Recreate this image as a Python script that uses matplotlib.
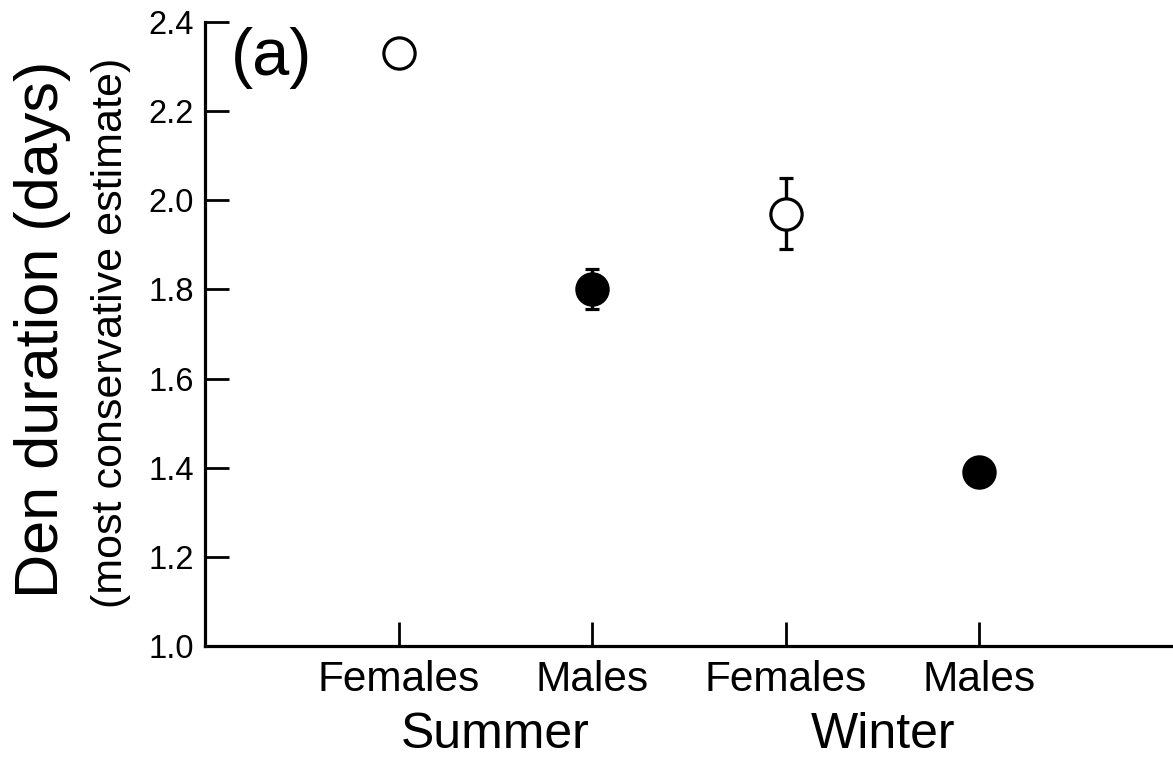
import numpy as np
import matplotlib
matplotlib.use("Agg")
import matplotlib.pyplot as plt
from matplotlib.transforms import blended_transform_factory

plt.rcParams['font.family'] = ['Liberation Sans', 'DejaVu Sans']

# Den duration, most conservative estimate
groups = ['Females', 'Males', 'Females', 'Males']
seasons = ['Summer', 'Winter']
means = [2.33, 1.80, 1.97, 1.39]
errors = [0.02, 0.045, 0.08, 0.02]
filled = [False, True, False, True]
y_ticks = [1.0, 1.2, 1.4, 1.6, 1.8, 2.0, 2.2, 2.4]

W, H = 1173, 758
fig = plt.figure(figsize=(W / 100, H / 100), dpi=100)
ax = fig.add_axes([205 / W, 1 - 646 / H, 1 - 205 / W, (646 - 22) / H])

# Points with error bars (open = females, filled = males)
x = np.arange(1, len(means) + 1)
for xi, m, e, f in zip(x, means, errors, filled):
    ax.errorbar(xi, m, yerr=e, fmt='o', ms=22.5, mew=2.3,
                mfc='black' if f else 'white', mec='black',
                ecolor='black', elinewidth=2.4, capsize=4.8, capthick=2.4,
                zorder=3)

# Axes styling
ax.set_xlim(0, 5)
ax.set_ylim(1.0, 2.4)
ax.set_xticks(x)
ax.set_xticklabels(groups)
ax.set_yticks(y_ticks)
ax.set_yticklabels([f"{v:.1f}" for v in y_ticks])
for side in ['top', 'right']:
    ax.spines[side].set_visible(False)
for side in ['left', 'bottom']:
    ax.spines[side].set_linewidth(2.3)
ax.tick_params(axis='both', direction='in', length=17, width=2, color='black')
ax.tick_params(axis='x', labelsize=30.5, pad=10)
ax.tick_params(axis='y', labelsize=23.5, pad=8)

# Season labels under each pair
season_trans = blended_transform_factory(ax.transData, fig.transFigure)
for i, s in enumerate(seasons):
    ax.text(x[2 * i] + 0.5, 10 / H, s, fontsize=36, ha='center',
            va='baseline', transform=season_trans)

# Y axis label (two lines, different sizes)
fig.text(14 / W, 1 - 329 / H, 'Den duration (days)', rotation=90,
         fontsize=44, ha='left', va='center')
fig.text(91 / W, 1 - 333 / H, '(most conservative estimate)', rotation=90,
         fontsize=31, ha='left', va='center')

# Panel label
fig.text(231 / W, 1 - 27 / H, '(a)', fontsize=48, ha='left', va='top')

fig.savefig('out.png', dpi=100)
